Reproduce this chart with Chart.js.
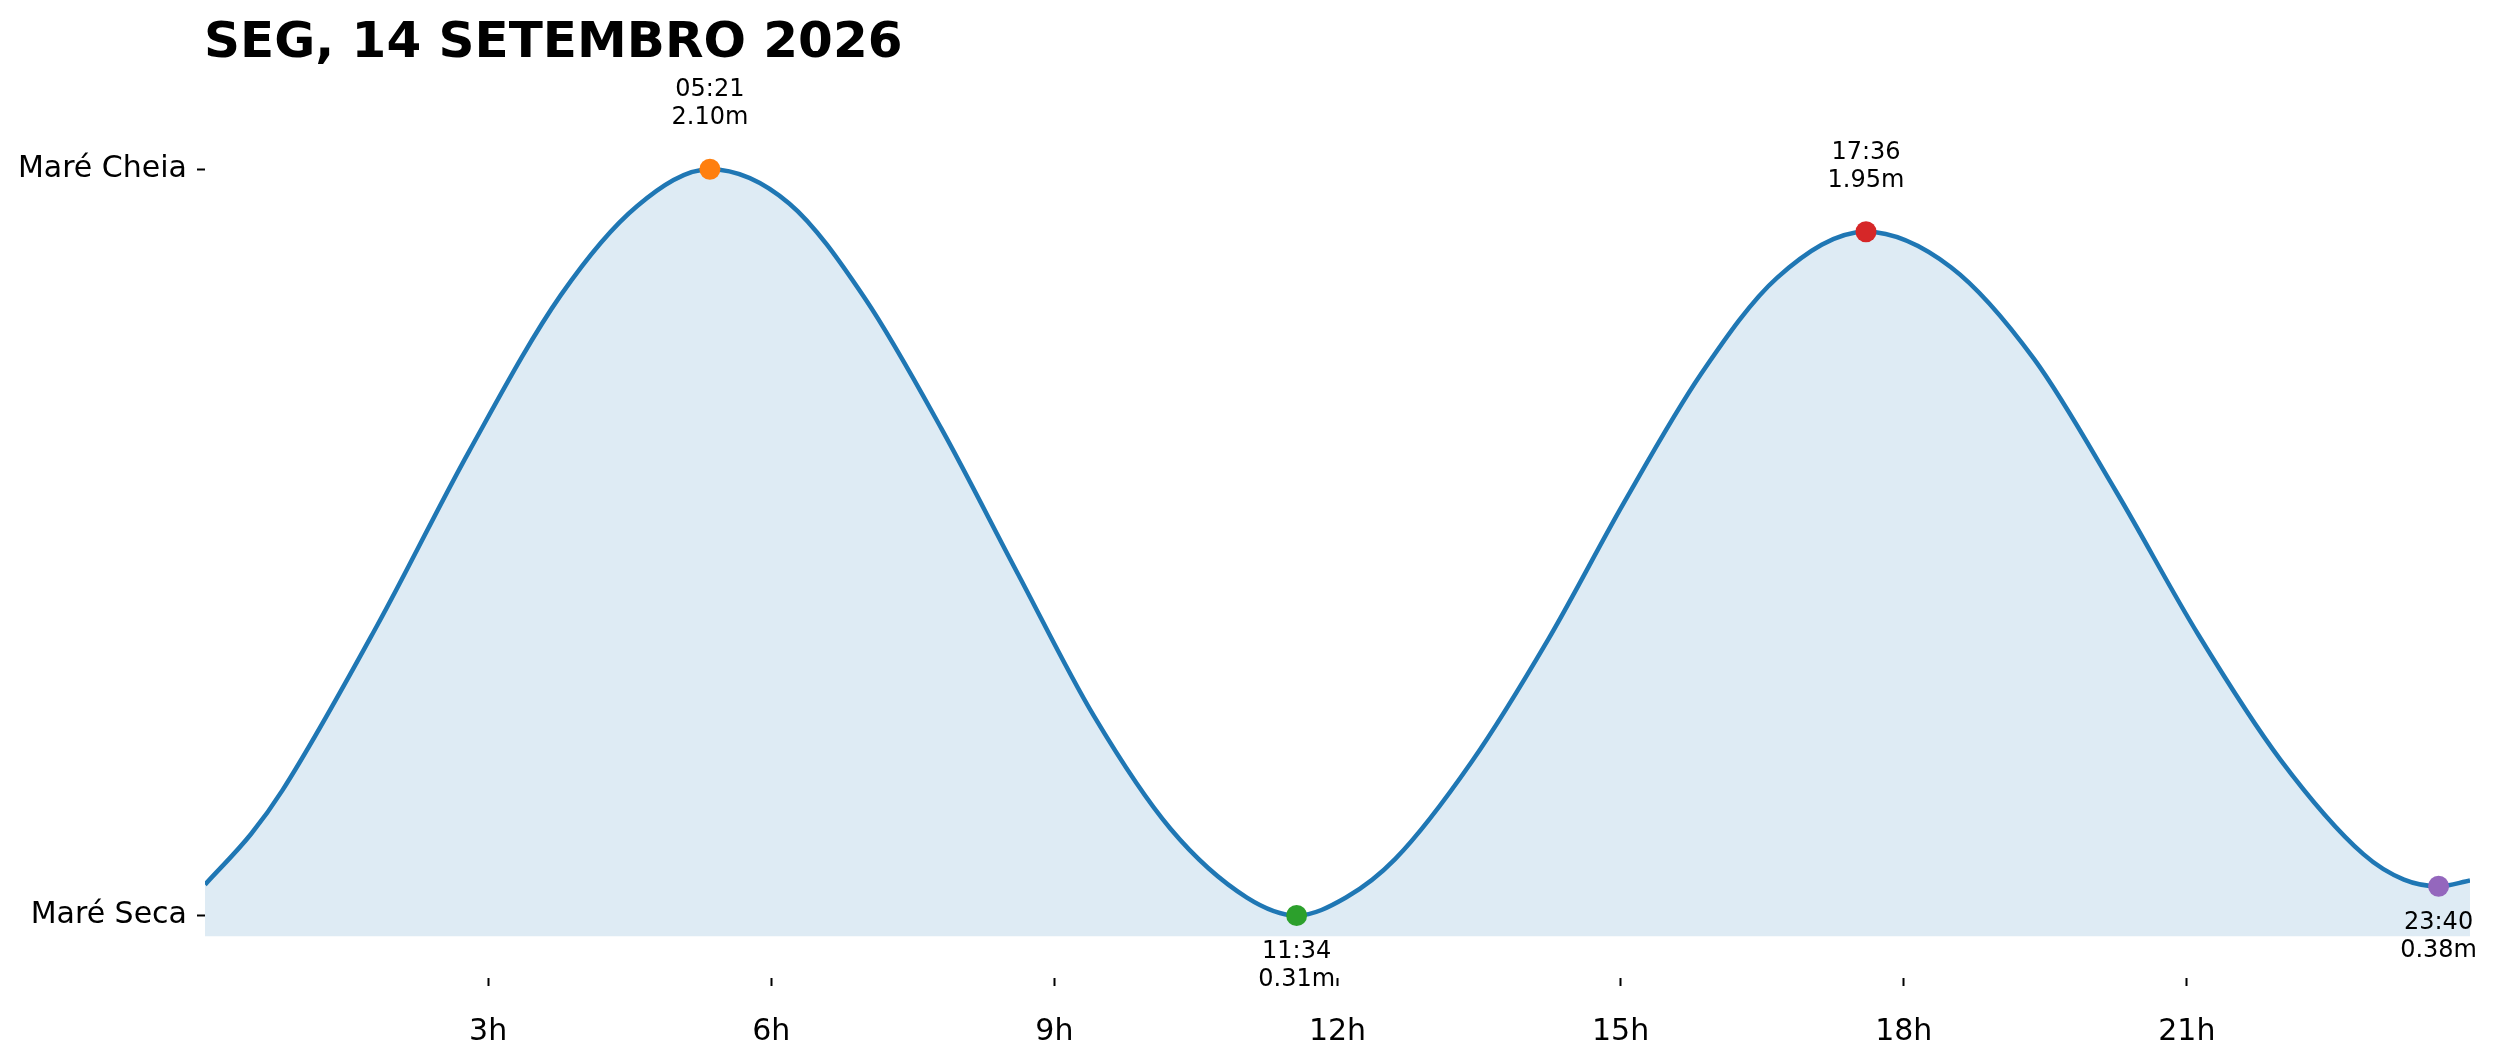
<!DOCTYPE html>
<html>
<head>
<meta charset="utf-8">
<title>Tábua de marés</title>
<script src="https://cdn.jsdelivr.net/npm/chart.js@4.4.1/dist/chart.umd.min.js"></script>
<style>
    html, body { margin: 0; padding: 0; background: #fff; }
    canvas { display: block; }
</style>
</head>
<body>
<canvas id="tideChart" width="2497" height="1062"></canvas>
<script>
// Tide chart - Chart.js

const chartTitle = 'SEG, 14 SETEMBRO 2026';

// curve (hour of day, height in metres)
const curveHours = [0, 0.49, 0.82, 1.83, 2.80, 3.77, 4.58, 5.35, 6.19, 6.99, 7.80, 8.61, 9.42, 10.23, 11.04,
    11.57, 12.09, 12.61, 13.42, 14.23, 15.04, 15.85, 16.66, 17.60, 18.50, 19.38, 20.25, 21.12, 21.99, 22.87,
    23.30, 23.67, 24.0];
const curveHeights = [0.384, 0.506, 0.610, 1.008, 1.424, 1.798, 2.012, 2.10, 2.018, 1.791, 1.479, 1.131, 0.788, 0.518, 0.353,
    0.31, 0.353, 0.445, 0.678, 0.971, 1.302, 1.608, 1.840, 1.95, 1.865, 1.645, 1.327, 0.984, 0.684, 0.457,
    0.396, 0.38, 0.394];

// high / low waters
const extremeTimes = ['05:21', '11:34', '17:36', '23:40'];
const extremeHours = [5.35, 11.567, 17.6, 23.667];
const extremeHeights = [2.10, 0.31, 1.95, 0.38];
const extremeKinds = ['high', 'low', 'high', 'low'];

// axis ticks
const xTickHours = [3, 6, 9, 12, 15, 18, 21];
const xTickLabels = ['3h', '6h', '9h', '12h', '15h', '18h', '21h'];
const yTickValues = [0.31, 2.10];
const yTickLabels = ['Maré Seca', 'Maré Cheia'];

const extremeColors = ['#ff7f0e', '#2ca02c', '#d62728', '#9467bd'];

const FONT = '"DejaVu Sans", "Liberation Sans", sans-serif';

// Title drawn flush with the plot's left edge
const titlePlugin = {
    id: 'leftTitle',
    afterDraw(chart) {
        const ctx = chart.ctx;
        ctx.save();
        ctx.fillStyle = '#000';
        ctx.font = 'bold 50px ' + FONT;
        ctx.textAlign = 'left';
        ctx.textBaseline = 'alphabetic';
        ctx.fillText(chartTitle, chart.chartArea.left - 1, 57);
        ctx.restore();
    }
};

// Time / height labels next to each high and low water
const extremeLabels = {
    id: 'extremeLabels',
    afterDatasetsDraw(chart) {
        const ctx = chart.ctx;
        const xs = chart.scales.x;
        const ys = chart.scales.y;
        ctx.save();
        ctx.fillStyle = '#000';
        ctx.font = '24px ' + FONT;
        ctx.textAlign = 'center';
        ctx.textBaseline = 'alphabetic';
        extremeHours.forEach((h, i) => {
            const px = xs.getPixelForValue(h);
            const py = ys.getPixelForValue(extremeHeights[i]);
            const lines = [extremeTimes[i], extremeHeights[i].toFixed(2) + 'm'];
            if (extremeKinds[i] === 'high') {
                ctx.fillText(lines[0], px, py - 73);
                ctx.fillText(lines[1], px, py - 45);
            } else {
                ctx.fillText(lines[0], px, py + 43);
                ctx.fillText(lines[1], px, py + 71);
            }
        });
        ctx.restore();
    }
};

const canvas = document.getElementById('tideChart');
const ctx = canvas.getContext('2d');

new Chart(ctx, {
    type: 'line',
    data: {
        datasets: [
            {
                type: 'scatter',
                label: 'Extremos',
                data: extremeHours.map((h, i) => ({ x: h, y: extremeHeights[i] })),
                backgroundColor: extremeColors,
                borderColor: extremeColors,
                pointRadius: 10.5,
                pointBorderWidth: 0,
                showLine: false,
                order: 0
            },
            {
                label: 'Altura',
                data: curveHours.map((h, i) => ({ x: h, y: curveHeights[i] })),
                borderColor: '#1f77b4',
                borderWidth: 4.5,
                backgroundColor: 'rgba(31, 119, 180, 0.15)',
                fill: { value: 0.26 },
                pointRadius: 0,
                cubicInterpolationMode: 'monotone',
                order: 1
            }
        ]
    },
    options: {
        responsive: false,
        devicePixelRatio: 1,
        animation: false,
        layout: {
            padding: { top: 65, right: 27, bottom: 0, left: 0 }
        },
        plugins: {
            legend: { display: false },
            tooltip: { enabled: false },
            title: { display: false }
        },
        scales: {
            x: {
                type: 'linear',
                min: 0,
                max: 24,
                afterBuildTicks: (scale) => {
                    scale.ticks = xTickHours.map(v => ({ value: v }));
                },
                afterFit: (scale) => {
                    scale.height = 84;
                },
                border: { display: false },
                grid: {
                    drawOnChartArea: false,
                    drawTicks: true,
                    tickLength: 8,
                    tickWidth: 2,
                    tickColor: '#000'
                },
                ticks: {
                    autoSkip: false,
                    maxRotation: 0,
                    padding: 28,
                    color: '#000',
                    font: { family: FONT, size: 30 },
                    callback: (value, index) => xTickLabels[index]
                }
            },
            y: {
                type: 'linear',
                min: 0.16,
                max: 2.35,
                afterBuildTicks: (scale) => {
                    scale.ticks = yTickValues.map(v => ({ value: v }));
                },
                afterFit: (scale) => {
                    scale.width = 205;
                },
                border: { display: false },
                grid: {
                    drawOnChartArea: false,
                    drawTicks: true,
                    tickLength: 8,
                    tickWidth: 2,
                    tickColor: '#000'
                },
                ticks: {
                    autoSkip: false,
                    padding: 10,
                    color: '#000',
                    font: { family: FONT, size: 30 },
                    callback: (value, index) => yTickLabels[index]
                }
            }
        }
    },
    plugins: [titlePlugin, extremeLabels]
});
</script>
</body>
</html>
